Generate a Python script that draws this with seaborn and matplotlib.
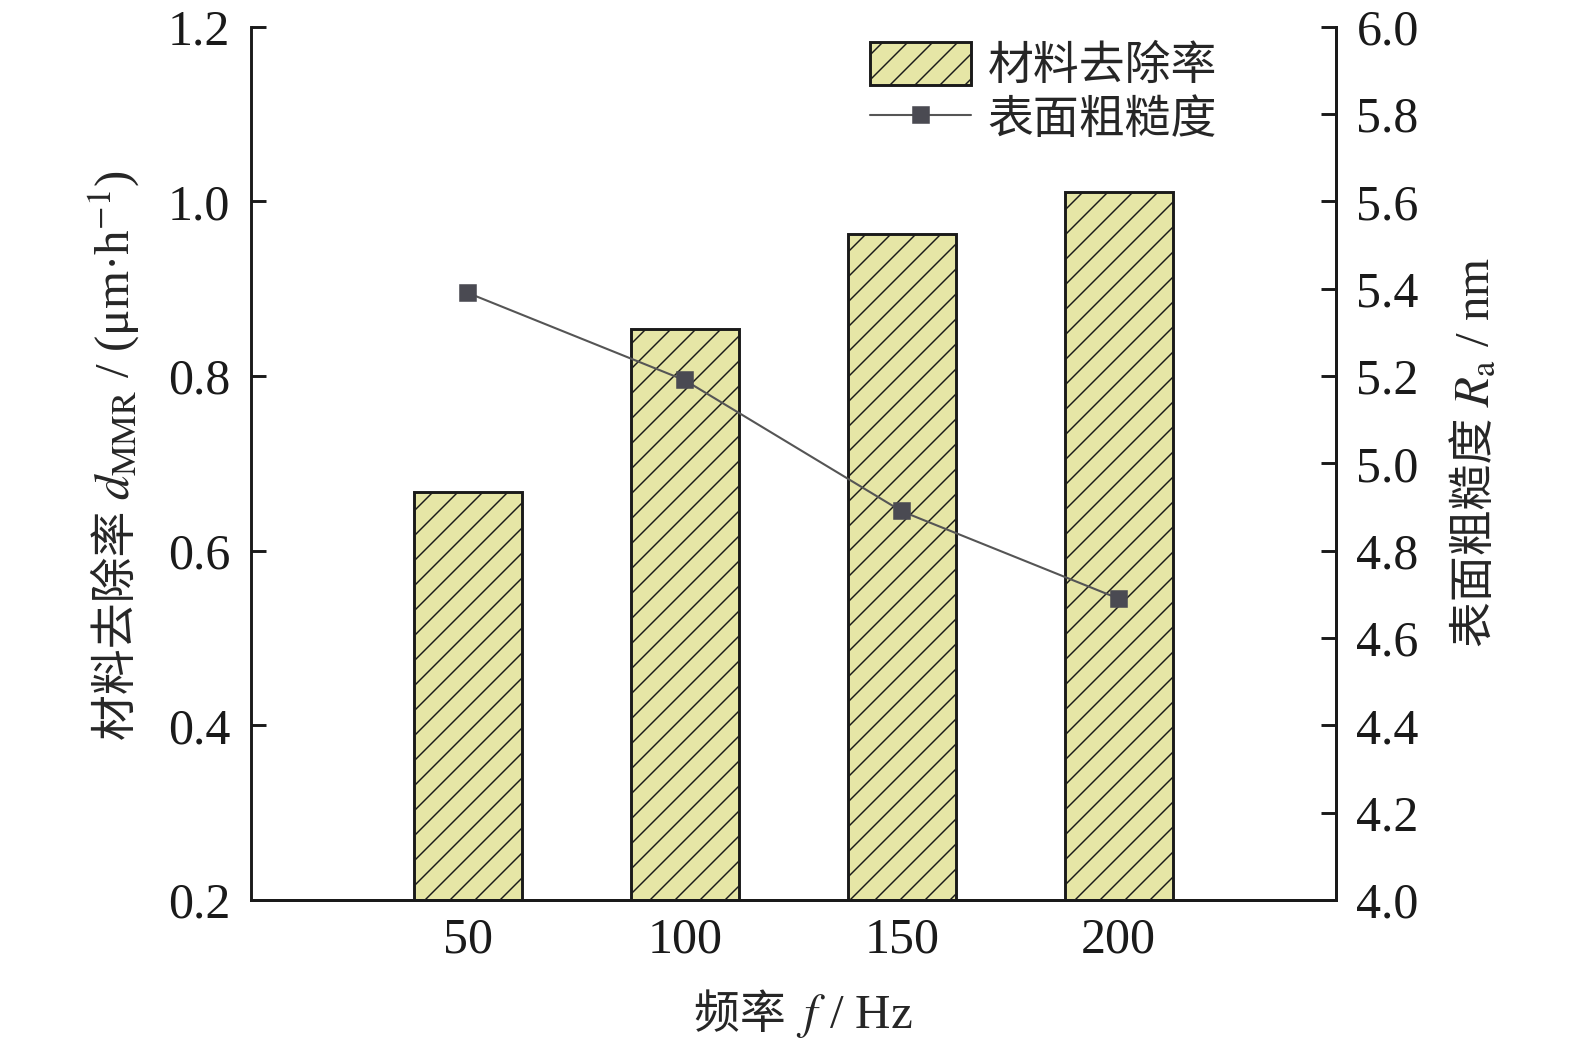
import matplotlib
matplotlib.use('Agg')
import matplotlib.pyplot as plt
import seaborn as sns

# frequency (Hz), material removal rate, surface roughness
freqs = [50, 100, 150, 200]
mrr = [0.667, 0.854, 0.963, 1.011]
ra = [5.39, 5.19, 4.89, 4.69]
left_ticks = [0.2, 0.4, 0.6, 0.8, 1.0, 1.2]
right_ticks = [4.0, 4.2, 4.4, 4.6, 4.8, 5.0, 5.2, 5.4, 5.6, 5.8, 6.0]

CJK = 'Noto Sans CJK SC'
SERIF = 'Liberation Serif'

sns.set_theme(style='ticks')
plt.rcParams['font.family'] = [SERIF, CJK]
plt.rcParams['mathtext.fontset'] = 'stix'
plt.rcParams['hatch.linewidth'] = 0.7
plt.rcParams['hatch.color'] = '#222222'


def mixed_label(fig, cx, cy, parts, rotation=0, fontsize=22, mathsize=23.5):
    """Lay out Chinese and math pieces end to end, centred at (cx, cy) px."""
    texts = []
    for s in parts:
        is_math = '$' in s
        t = fig.text(0, 0, s, fontsize=mathsize if is_math else fontsize,
                     family=[SERIF] if is_math else [CJK], rotation=rotation,
                     rotation_mode='anchor', ha='left', va='baseline',
                     transform=None)
        texts.append(t)
    fig.canvas.draw()
    r = fig.canvas.get_renderer()
    sizes = []
    for t in texts:
        bb = t.get_window_extent(r)
        sizes.append(bb.width if rotation == 0 else bb.height)
    total = sum(sizes)
    pos = (cx if rotation == 0 else cy) - total / 2
    for t, s in zip(texts, sizes):
        if rotation == 0:
            t.set_position((pos, cy))
        else:
            t.set_position((cx, pos))
        pos += s


fig = plt.figure(figsize=(10.5, 6.98), dpi=150)
ax = fig.add_axes([0.1595, 0.1405, 0.6885, 0.834])

sns.barplot(x=freqs, y=mrr, native_scale=True, width=0.5, color='#e6e6a6',
            saturation=1, edgecolor='#1a1a1a', linewidth=1.4, hatch='//',
            ax=ax, label='材料去除率')
if ax.get_legend() is not None:
    ax.get_legend().remove()
ax.set_xlim(0, 250)
ax.set_ylim(0.2, 1.2)
ax.set_xticks(freqs)
ax.set_xticklabels([str(f) for f in freqs])
ax.set_yticks(left_ticks)
ax.set_yticklabels([f'{t:.1f}' for t in left_ticks])
ax.set_xlabel('')
ax.set_ylabel('')

ax2 = ax.twinx()
sns.lineplot(x=freqs, y=ra, ax=ax2, color='#555555', linewidth=1.0,
             marker='s', markersize=7.5, markerfacecolor='#4a4a52',
             markeredgecolor='#4a4a52', label='表面粗糙度', legend=False)
ax2.set_ylim(4.0, 6.0)
ax2.set_yticks(right_ticks)
ax2.set_yticklabels([f'{t:.1f}' for t in right_ticks])
ax2.set_ylabel('')

for a in (ax, ax2):
    for s in a.spines.values():
        s.set_linewidth(1.4)
        s.set_color('#1a1a1a')
    a.spines['top'].set_visible(False)
    a.tick_params(direction='in', length=7, width=1.4, colors='#1a1a1a',
                  labelsize=24, pad=10)
ax.tick_params(axis='x', pad=8)
ax2.spines['left'].set_visible(False)

h1, l1 = ax.get_legend_handles_labels()
h2, l2 = ax2.get_legend_handles_labels()
leg = ax2.legend(h1 + h2, l1 + l2, loc='upper left', bbox_to_anchor=(0.533, 1.03),
                 frameon=False, prop={'family': [CJK], 'size': 22},
                 handlelength=2.2, handleheight=1.05,
                 handletextpad=0.35, labelspacing=0.12)

H = 1047
mixed_label(fig, 803, H - 1028, ['频率 ', '$f$ / Hz'])
mixed_label(fig, 130, H - 455, ['材料去除率 ', '$d_{\\mathrm{MMR}}$ / (μm·h$^{-1}$)'], rotation=90)
mixed_label(fig, 1488, H - 452, ['表面粗糙度 ', '$R_{\\mathrm{a}}$ / nm'], rotation=90)

fig.savefig('out.png', dpi=150)
